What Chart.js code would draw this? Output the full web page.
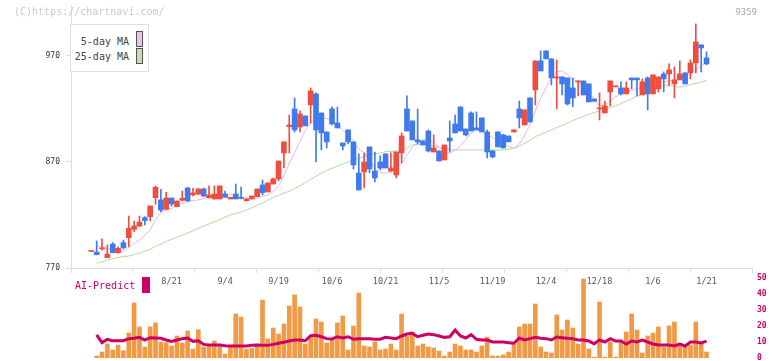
<!DOCTYPE html>
<html>
<head>
<meta charset="utf-8">
<title>9359</title>
<script src="https://cdn.jsdelivr.net/npm/chart.js@4.4.1/dist/chart.umd.min.js"></script>
<style>
  body { margin: 0; background: #fff; }
  #wrap { position: relative; width: 772px; height: 361px; overflow: hidden; font-family: 'DejaVu Sans Mono', monospace; }
  #wrap canvas { position: absolute; left: 0; top: 0; }
  .txt { position: absolute; white-space: nowrap; line-height: 12px; }
  .sw { position: absolute; box-sizing: border-box; }
</style>
</head>
<body>
<div id="wrap">
  <canvas id="main" width="772" height="361"></canvas>
  <canvas id="vol" width="772" height="361"></canvas>

  <div class="txt" style="left:14px; top:6px; font-size:10px; color:#cacaca;">(C)https://chartnavi.com/</div>
  <div class="txt" style="right:15px; top:6px; font-size:9px; color:#a8a8a8;">9359</div>

  <!-- moving average legend -->
  <div class="sw" style="left:70px; top:24px; width:79px; height:48px; border:1px solid #dedede; background:#fff;"></div>
  <div class="txt" style="right:643px; top:36px; font-size:10px; color:#444;">5-day MA</div>
  <div class="txt" style="right:643px; top:51px; font-size:10px; color:#444;">25-day MA</div>
  <div class="sw" style="left:136px; top:31px; width:7px; height:16px; border:1px solid #555; background:#f0c0f0;"></div>
  <div class="sw" style="left:136px; top:48px; width:7px; height:16px; border:1px solid #555; background:#c2e0b2;"></div>

  <!-- AI-Predict legend -->
  <div class="txt" style="left:75px; top:280px; font-size:10px; color:#cc0066;">AI-Predict</div>
  <div class="sw" style="left:142px; top:277px; width:8px; height:16px; background:#cc0066;"></div>
</div>

<script>
// daily candles, 7/30 .. 1/21 (index 0 .. 115)
const opens = [785.5, 785, 788, 779.7, 792.6, 784.4, 793.9, 798.6, 806.5, 809.6,
  817.5, 818.4, 836.3, 834.2, 825.4, 836, 827.8, 833.9, 845.5, 838.9,
  839.8, 844.5, 836.3, 835.1, 835.1, 839.8, 835.1, 839.8, 836, 833.5,
  835.1, 837.3, 848.3, 841.7, 849.2, 854, 878.5, 903.3, 920, 903,
  913.4, 923.8, 934.2, 916.2, 898.3, 920, 906.8, 887.9, 900.2, 888.9,
  859.6, 860.6, 884.2, 861.5, 870, 877.5, 861.5, 857.7, 878.5, 920,
  908.7, 890.8, 889.8, 899.2, 879.4, 880.4, 871.9, 892.6, 905.8, 921.9,
  901.1, 916.2, 902.1, 911.5, 898.3, 880.4, 898.3, 895.5, 894.5, 898.3,
  920, 904.9, 930.4, 937.9, 965.3, 974.7, 967.2, 949.2, 950.2, 949.2,
  939.8, 945.5, 946.4, 943.6, 929.4, 920, 916.2, 936, 940.8, 939.8,
  934.2, 949.2, 949.2, 933.2, 949.2, 934.2, 938.9, 953, 953, 943.6,
  947.4, 954, 954, 963.4, 980.4, 968.1];
const highs = [786, 795.5, 797.4, 791.7, 794, 790, 796.4, 819, 814.3, 819,
  818.4, 828.5, 847.4, 844.2, 841.4, 836, 833.2, 842.6, 846.1, 845.2,
  845, 845.5, 847.4, 847.4, 847.4, 842.6, 836.7, 849.2, 846.4, 835.5,
  837.9, 844.5, 853, 850.2, 854.9, 870.9, 888.9, 914.3, 930.4, 918.1,
  913.4, 939.8, 935.1, 916.2, 898.3, 921.9, 921.9, 887.9, 900.2, 888.9,
  877.5, 878.5, 884.2, 879.4, 875.7, 878, 878.5, 879.4, 897.4, 932.3,
  908.7, 920, 889.8, 900.2, 895.5, 880.4, 886, 908.7, 914.3, 921.9,
  901.1, 917.2, 917.2, 911.5, 900.2, 881, 898.3, 896, 894.5, 900.2,
  927.5, 919.1, 930.4, 965.3, 974.7, 974.7, 967.2, 966.2, 950.2, 949.2,
  949.2, 946.4, 946.4, 943.6, 929.4, 935.1, 927.5, 946.4, 941.7, 945.5,
  945.5, 949.2, 949.2, 948.3, 950.2, 952.1, 950.2, 954.9, 962.5, 959.6,
  965.3, 954, 966.2, 1000.2, 980.4, 973.8];
const lows = [785.5, 782.5, 786.8, 779.7, 784.4, 783.9, 787.9, 790, 804.2, 809,
  810.6, 814.3, 830.1, 823.1, 824.7, 828.5, 827.8, 833.2, 832.5, 838,
  839, 837.3, 835.8, 835.1, 835.1, 836.7, 835.1, 835.1, 835.1, 833,
  835.1, 837.3, 838.9, 841.7, 849.2, 852.1, 864.3, 878.5, 898.3, 898.3,
  904, 906.5, 870, 881.3, 883.2, 904.9, 902.1, 881.3, 887, 863.4,
  843.6, 845.5, 859.6, 851.1, 862.5, 864.3, 860.6, 854.9, 869.1, 899.2,
  890.8, 887, 886, 879.4, 879.4, 870.9, 871.9, 879.4, 897.4, 899.2,
  894.5, 899.2, 900.2, 898.3, 873.8, 874, 884.2, 883.2, 888.9, 898.3,
  902.1, 904.9, 907.7, 923.8, 955.8, 967.2, 942.6, 920, 933.2, 923.8,
  921.9, 932.3, 933.2, 926.6, 927.2, 909.6, 916.2, 922.8, 940.8, 933.2,
  934.2, 938.9, 932.3, 933.2, 919.1, 934.2, 936, 936, 941.7, 930.4,
  947.4, 943.6, 948.3, 954, 954.9, 961.5];
const closes = [786, 782.5, 789, 783.2, 784.4, 788.6, 789.2, 807.5, 809.6, 813.4,
  814.7, 828.5, 846.1, 824.7, 836, 830.4, 833.2, 835.8, 833.5, 840.8,
  844.5, 837.9, 838.9, 839.8, 847.4, 836.7, 836.7, 835.1, 835.5, 835,
  837.9, 844.5, 841.1, 850.2, 854, 870.9, 888.9, 904.9, 900.2, 915.3,
  904, 937, 900.2, 897.4, 888.9, 905.8, 902.1, 885.1, 888.9, 867.2,
  843.6, 870, 863.4, 854.9, 864.3, 864.3, 864.3, 879.4, 894.5, 899.2,
  890.8, 888.9, 886, 880.4, 883.2, 870.9, 886, 889.8, 897.4, 899.2,
  895.5, 899.2, 900.2, 898.3, 879.4, 874.7, 884.2, 883.2, 888.9, 900.2,
  911.5, 919.1, 907.7, 965.3, 955.8, 967.2, 949.2, 950.2, 943.6, 924.7,
  930.4, 946.4, 933.2, 926.6, 927.2, 921, 922.8, 946.4, 941.7, 934.2,
  939.8, 947.4, 947.4, 945.5, 934.2, 952.1, 950.2, 948.3, 956.8, 947.4,
  953, 943.6, 963.4, 983.2, 977.5, 962.5];

const ma5 = [null, 790.8, 789.5, 788.6, 787, 785.5, 786, 789.5, 793, 796.4,
  801, 805.8, 815.3, 822, 825, 826.3, 829, 831, 832.6, 833.5,
  834.2, 835.5, 836.7, 837.9, 838.9, 839, 839, 838.5, 837, 836,
  835.1, 836, 837.5, 838.9, 842, 847.5, 857, 868.7, 879, 889.2,
  900, 907, 910.5, 911.2, 911.2, 908.5, 904.5, 900, 895, 890,
  882, 879, 872, 864, 860, 859.3, 860.9, 864, 868.5, 876,
  884, 888, 890.8, 891.4, 888, 884, 879.7, 878.2, 881, 885.5,
  891, 897, 900, 899, 896, 893, 890, 887.6, 884.5, 883,
  887, 895, 905, 918, 930, 940, 949, 955, 956, 952,
  948, 945.8, 939, 934, 930, 922.8, 924, 927, 931.6, 934,
  936.3, 937.5, 939, 940.5, 942, 943.5, 944.8, 945.5, 946.5, 947.5,
  949, 950.5, 953, 957, 960.5, 963.7];
const ma25 = [null, 774.4, 776, 777.5, 778.8, 780, 780.7, 781.3, 782.5, 784,
  785.8, 787.6, 790.3, 792.5, 795, 797, 799, 801, 803, 805,
  807.5, 809.5, 811.5, 813.7, 815.5, 818, 820, 821.5, 823, 824.7,
  826.8, 829, 831, 834, 836.5, 838.5, 840.5, 842.5, 845, 847.5,
  850.5, 853.5, 856.5, 859.5, 862, 864, 866, 868, 870, 871.9,
  873.5, 875, 876.6, 877.5, 878.5, 879.7, 880, 880.3, 880.7, 883,
  886, 886.5, 886.5, 886, 885, 884, 882.5, 881.5, 881.3, 881.3,
  881.3, 881.3, 881.3, 881.3, 881.3, 881.3, 881.3, 881.3, 882, 882.9,
  885, 887.6, 890.5, 893.9, 896, 898, 900.2, 902.5, 904.5, 906.5,
  909, 911, 913, 915, 916.5, 918.5, 920, 921.5, 923, 925,
  927.3, 929.5, 932, 934, 936, 938, 940, 942, 942.9, 941.5,
  940.5, 941.5, 942.9, 944, 945.5, 946.7];

// lower panel (0-50 scale)
const volume = [null, 1.25, 3.75, 8.75, 5, 8.1, 4.6, 15.6, 34.4, 19.4,
  6.9, 19.4, 21.9, 10, 9.6, 7.5, 13.75, 9.4, 16.9, 5.6,
  17.7, 6.9, 8.3, 10.6, 8.1, 2.5, 6.9, 27.5, 25.6, 5.6,
  6, 9, 36.25, 11.9, 18.75, 15, 21.25, 32.5, 39.4, 31.9,
  8.75, 13.1, 24.4, 22.5, 9.4, 11.9, 21.9, 26.25, 5, 20,
  40.6, 7.5, 6.9, 10, 5, 5.6, 8.75, 5, 27.5, 13.75,
  16.25, 7.5, 8.75, 6.9, 6.25, 4.4, 1.25, 3.75, 8.75, 7.5,
  5, 5, 3.75, 7.5, 13.1, 1.25, 1.25, 1.9, 3.75, 8.75,
  19.4, 21.25, 21.25, 33.75, 6.9, 3.75, 3.1, 26.9, 17.5, 23.75,
  18.75, 8.75, 49.4, 5.6, 0.6, 35, 0.6, 10, 0.6, 10,
  16.25, 27.5, 17.5, 3.1, 13.75, 15.6, 19.4, 6.9, 20, 22.5,
  8.75, 6.9, 8.1, 22.5, 8.75, 3.75];
const aiPredict = [null, 14.4, 9.6, 11.7, 10.8, 10.8, 10.8, 12.1, 12.3, 12.9,
  11.25, 12.7, 12.5, 12.3, 11.25, 10.4, 11.25, 12.1, 12.5, 10.4,
  10.8, 8.5, 8.1, 8.1, 8.1, 7.7, 7.5, 7.5, 7.5, 7.5,
  7.9, 7.9, 7.9, 7.9, 8.5, 9.2, 9.8, 10.6, 11.25, 11.25,
  10.8, 14, 14.2, 13.3, 12.1, 11.9, 13.3, 12.5, 13.3, 11.7,
  12.1, 12.1, 12.1, 11.7, 11.7, 12.9, 12.5, 12.1, 13.75, 15,
  15.4, 13.3, 14.2, 15, 14.6, 13.75, 12.9, 13.3, 17.5, 13.75,
  12.5, 14.6, 11.7, 11.25, 11.25, 10, 10, 10, 9.6, 9.2,
  12.5, 11.25, 12.1, 12.9, 12.3, 12.1, 11.25, 13.1, 12.7, 12.3,
  12.1, 11.25, 11.25, 10.6, 8.9, 11.25, 10, 12.1, 10.6, 10.6,
  8.75, 10.6, 10, 11.25, 10, 8.75, 8.1, 8.1, 8.1, 7.5,
  8.75, 7.5, 10, 10, 9.4, 10.6];

// axis labels
const dateLabels = ['8/21', '9/4', '9/19', '10/6', '10/21', '11/5', '11/19', '12/4', '12/18', '1/6', '1/21'];
const dateTickIndex = [15, 25, 35, 45, 55, 65, 75, 85, 95, 105, 115];
const priceTicks = [770, 870, 970];

const FONT = 'DejaVu Sans Mono';
const UP = '#ef4e3e', DOWN = '#3f7bee', AXIS = '#dcdcdc';
const X_MIN = -3.8, X_MAX = 123.5;

Chart.defaults.font.family = FONT;

const candleColors = opens.map((o, i) => closes[i] >= o ? UP : DOWN);
const pts = arr => arr.map((v, i) => ({ x: i, y: v }));

// keep the plot area exactly where the layout padding puts it
const noLabelPadding = scale => { scale.paddingTop = 0; scale.paddingBottom = 0; };

new Chart(document.getElementById('main'), {
  type: 'bar',
  data: {
    datasets: [
      { type: 'line', data: pts(ma5), borderColor: '#ebb5eb', borderWidth: 1, pointRadius: 0, order: 3 },
      { type: 'line', data: pts(ma25), borderColor: '#b3daa3', borderWidth: 1, pointRadius: 0, order: 3 },
      { // wicks
        type: 'bar',
        data: lows.map((l, i) => ({ x: i, y: [l, highs[i]] })),
        backgroundColor: candleColors,
        barThickness: 1, minBarLength: 1, grouped: false, order: 2
      },
      { // bodies
        type: 'bar',
        data: opens.map((o, i) => ({ x: i, y: [Math.min(o, closes[i]), Math.max(o, closes[i])] })),
        backgroundColor: candleColors,
        barThickness: 5, minBarLength: 1, grouped: false, order: 1
      }
    ]
  },
  options: {
    responsive: false,
    animation: false,
    devicePixelRatio: 1,
    layout: { padding: { top: 5, right: 20, bottom: 0, left: 0 } },
    plugins: { legend: { display: false }, tooltip: { enabled: false } },
    scales: {
      x: {
        type: 'linear',
        min: X_MIN,
        max: X_MAX,
        offset: false,
        border: { color: AXIS },
        grid: {
          drawOnChartArea: false,
          offset: false,
          tickLength: 5,
          tickColor: ctx => (ctx.tick && ctx.tick.division) ? AXIS : 'rgba(0,0,0,0)'
        },
        afterBuildTicks: scale => {
          // 11 even divisions for tick marks, plus the date label positions
          const ticks = [];
          for (let k = 0; k <= 11; k++) {
            ticks.push({ value: X_MIN + k * (X_MAX - X_MIN) / 11, division: true });
          }
          dateTickIndex.forEach(v => ticks.push({ value: v }));
          ticks.sort((a, b) => a.value - b.value);
          scale.ticks = ticks;
        },
        afterFit: scale => { scale.height = 93; scale.paddingLeft = 0; scale.paddingRight = 0; },
        ticks: {
          autoSkip: false,
          maxRotation: 0,
          minRotation: 0,
          padding: 4,
          color: '#555',
          font: { size: 8.5 },
          callback: v => {
            const k = dateTickIndex.indexOf(v);
            return k >= 0 ? dateLabels[k] : '';
          }
        }
      },
      y: {
        type: 'linear',
        position: 'left',
        min: 770,
        max: 1018,
        border: { color: AXIS },
        grid: { drawOnChartArea: false, tickLength: 5, color: AXIS },
        afterBuildTicks: scale => { scale.ticks = priceTicks.map(v => ({ value: v })); },
        afterFit: scale => { scale.width = 71; noLabelPadding(scale); },
        ticks: { padding: 6, color: '#333', font: { size: 8 } }
      }
    }
  }
});

new Chart(document.getElementById('vol'), {
  type: 'bar',
  data: {
    datasets: [
      { type: 'line', data: pts(aiPredict), borderColor: '#cc0066', borderWidth: 3, pointRadius: 0, order: 0 },
      { type: 'bar', data: pts(volume), backgroundColor: '#f19a45', barThickness: 4, grouped: false, order: 1 }
    ]
  },
  options: {
    responsive: false,
    animation: false,
    devicePixelRatio: 1,
    layout: { padding: { top: 278, right: 0, bottom: 3, left: 71 } },
    plugins: { legend: { display: false }, tooltip: { enabled: false } },
    scales: {
      x: { type: 'linear', display: false, min: X_MIN, max: X_MAX, offset: false },
      y: {
        position: 'right',
        min: 0,
        max: 50,
        border: { display: false },
        grid: { display: false, drawTicks: false },
        afterFit: scale => { scale.width = 20; noLabelPadding(scale); },
        ticks: { stepSize: 10, padding: 5, color: '#cc0066', font: { size: 8, weight: 'bold' } }
      }
    }
  }
});
</script>
</body>
</html>
